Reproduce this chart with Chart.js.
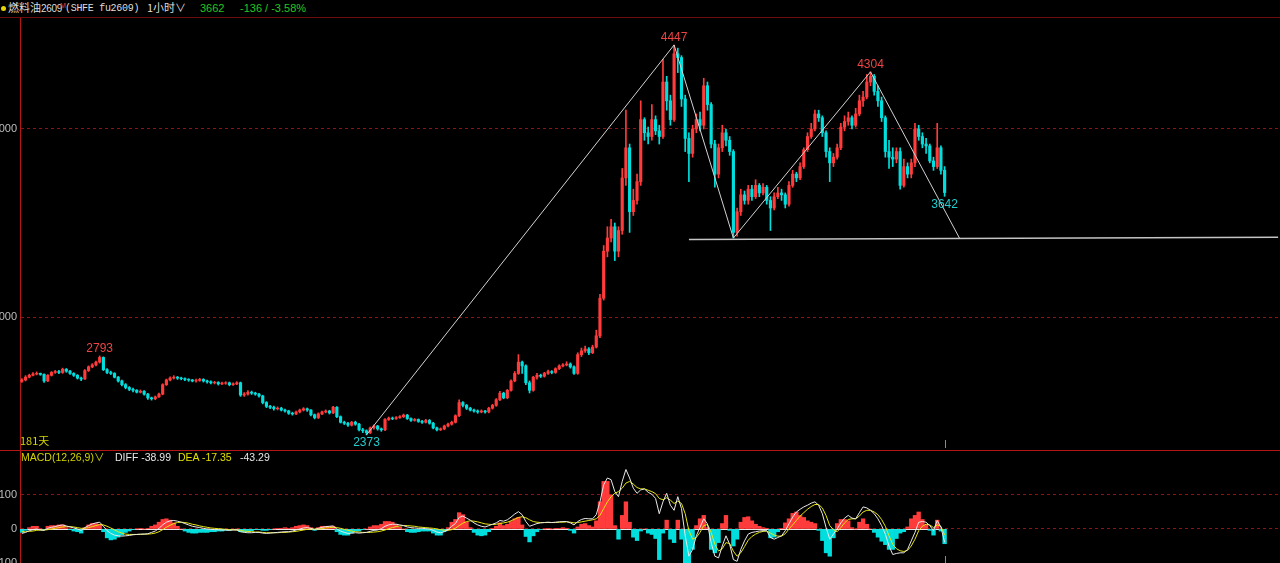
<!DOCTYPE html>
<html><head><meta charset="utf-8">
<script src="https://cdn.jsdelivr.net/npm/chart.js@4.4.1/dist/chart.umd.min.js"></script>
<style>
html,body{margin:0;padding:0;background:#000;width:1280px;height:563px;overflow:hidden;}
#wrap{position:relative;width:1280px;height:563px;background:#000;}
.t{position:absolute;white-space:nowrap;font-family:'Liberation Sans','Noto Sans CJK SC',sans-serif;font-size:11px;line-height:13px;z-index:5;}
canvas{position:absolute;left:0;}
</style></head><body><div id="wrap">
<div style="position:absolute;left:0;top:17px;width:1280px;height:1px;background:#6e0c0c"></div>
<canvas id="main" width="1280" height="432" style="top:18px"></canvas>
<div style="position:absolute;left:0;top:450px;width:1280px;height:1px;background:#b41616"></div>
<canvas id="macd" width="1280" height="112" style="top:451px"></canvas>

<div style="position:absolute;left:1px;top:6px;width:5px;height:5px;border-radius:50%;background:#e8d400;z-index:5"></div>
<span class="t" style="left:8px;top:1px;color:#dcdcdc;font-family:'Noto Sans CJK SC',sans-serif;font-size:11px;">燃料油</span>
<span class="t" style="left:41px;top:2px;color:#dcdcdc;font-size:10px;letter-spacing:-0.3px;">2609</span>
<span class="t" style="left:60px;top:-1px;color:#e04040;font-size:7px;">M</span>
<span class="t" style="left:65px;top:2px;color:#dcdcdc;font-family:'Liberation Mono',monospace;font-size:10px;letter-spacing:-0.3px;">(SHFE fu2609)</span>
<span class="t" style="left:147px;top:1px;color:#dcdcdc;font-family:'Noto Sans CJK SC',sans-serif;">1小时∨</span>
<span class="t" style="left:200px;top:2px;color:#22c822;">3662</span>
<span class="t" style="left:240px;top:2px;color:#22c822;">-136 / -3.58%</span>

<span class="t" style="left:20px;top:434px;color:#d4d400;font-family:'Noto Sans CJK SC',sans-serif;">181天</span>
<span class="t" style="left:21px;top:451px;color:#d4d400;font-size:10.5px;">MACD(12,26,9)∨</span>
<span class="t" style="left:115px;top:451px;color:#e6e6e6;font-size:10.5px;">DIFF -38.99</span>
<span class="t" style="left:178px;top:451px;color:#e0e000;font-size:10.5px;">DEA -17.35</span>
<span class="t" style="left:240px;top:451px;color:#e6e6e6;font-size:10.5px;">-43.29</span>
</div>
<script>
// ---------- data ----------
const slotCount = 340;
const opens = [
2658,2665,2680,2690,2697,2700,2695,2660,2690,2705,
2710,2705,2722,2712,2700,2690,2675,2670,2715,2735,
2745,2760,2785,2720,2705,2700,2680,2660,2640,2625,
2615,2610,2600,2605,2590,2570,2565,2575,2590,2640,
2665,2675,2680,2675,2672,2668,2665,2660,2662,2668,
2660,2655,2650,2652,2645,2648,2650,2640,2645,2650,
2585,2590,2600,2595,2590,2580,2545,2525,2520,2512,
2515,2505,2500,2488,2485,2495,2505,2512,2505,2480,
2465,2485,2495,2500,2490,2520,2470,2440,2435,2425,
2440,2430,2400,2395,2385,2410,2420,2405,2400,2455,
2462,2460,2465,2470,2478,2460,2450,2455,2445,2440,
2450,2435,2410,2400,2405,2420,2430,2440,2475,2545,
2530,2515,2505,2500,2495,2500,2495,2515,2530,2560,
2595,2570,2610,2660,2700,2760,2740,2650,2610,2680,
2690,2685,2700,2710,2705,2725,2740,2745,2750,2735,
2700,2800,2820,2830,2810,2840,2900,3100,3350,3420,
3480,3350,3460,3740,3900,3560,3620,3720,4050,3980,
3960,4050,3990,3960,4250,4150,4050,4400,4380,4160,
3950,3870,4000,4050,4020,4230,4130,3920,3760,3900,
3980,3940,3880,3450,3560,3650,3620,3680,3640,3700,
3660,3690,3620,3580,3640,3660,3650,3600,3700,3760,
3740,3800,3890,3960,4000,4080,4060,3980,3880,3820,
3850,3900,4010,4040,4060,4020,4080,4150,4170,4250,
4280,4200,4150,4060,3880,3850,3840,3880,3700,3800,
3760,3820,4000,3960,3920,3910,3830,3800,3900,3780];
const highs = [
2672,2688,2696,2704,2708,2702,2698,2694,2710,2716,
2716,2728,2726,2716,2704,2694,2680,2720,2740,2752,
2766,2793,2788,2726,2712,2704,2684,2664,2646,2630,
2622,2614,2612,2608,2594,2574,2580,2595,2645,2670,
2682,2688,2684,2680,2676,2672,2668,2670,2674,2672,
2664,2660,2658,2656,2654,2656,2654,2650,2656,2654,
2598,2608,2606,2600,2594,2584,2550,2530,2526,2522,
2520,2510,2504,2494,2500,2510,2518,2516,2508,2484,
2490,2500,2506,2504,2525,2524,2474,2446,2440,2445,
2446,2434,2408,2400,2415,2426,2424,2410,2460,2468,
2468,2470,2476,2484,2482,2464,2460,2458,2450,2456,
2455,2440,2414,2410,2425,2436,2446,2480,2560,2550,
2535,2520,2510,2506,2506,2504,2520,2536,2566,2605,
2600,2615,2666,2710,2800,2765,2745,2660,2685,2700,
2696,2706,2718,2715,2730,2746,2752,2762,2756,2740,
2810,2835,2845,2838,2850,2930,3120,3380,3480,3520,
3500,3480,3790,4100,3920,3680,3760,4150,4060,4010,
4130,4070,4020,4370,4280,4180,4447,4430,4390,4180,
3980,4020,4080,4090,4270,4250,4140,3940,3920,4020,
4000,3960,3890,3580,3680,3670,3700,3700,3730,3710,
3710,3700,3640,3660,3690,3680,3660,3720,3780,3770,
3820,3900,3980,4030,4100,4100,4070,3990,3900,3870,
3920,4030,4070,4090,4070,4110,4180,4200,4290,4304,
4290,4230,4170,4070,3940,3900,3900,3900,3840,3820,
3840,4030,4020,3980,3950,3920,3850,4030,3910,3800];
const lows = [
2652,2660,2676,2686,2692,2690,2652,2656,2686,2700,
2698,2700,2706,2694,2684,2670,2662,2668,2710,2730,
2740,2755,2715,2698,2694,2676,2654,2634,2618,2608,
2602,2596,2596,2584,2562,2558,2560,2572,2586,2636,
2660,2670,2668,2666,2662,2658,2655,2654,2658,2654,
2648,2644,2644,2638,2640,2642,2634,2636,2640,2578,
2578,2584,2588,2584,2574,2538,2518,2512,2505,2506,
2500,2494,2482,2478,2480,2490,2500,2498,2474,2458,
2460,2480,2490,2484,2486,2464,2436,2428,2418,2420,
2424,2394,2385,2373,2380,2404,2398,2392,2396,2450,
2454,2455,2460,2465,2455,2444,2446,2440,2434,2436,
2430,2405,2394,2396,2400,2415,2425,2436,2470,2522,
2508,2500,2494,2488,2490,2488,2490,2510,2525,2555,
2565,2565,2605,2655,2695,2700,2640,2596,2605,2670,
2678,2680,2695,2698,2700,2720,2734,2740,2728,2695,
2695,2790,2812,2800,2805,2835,2890,3090,3320,3400,
3300,3320,3440,3700,3450,3540,3600,3700,3940,3920,
3940,3970,3920,3950,4100,4020,4040,4300,4120,3880,
3720,3850,3980,3990,4000,4100,3900,3690,3740,3880,
3910,3860,3420,3430,3540,3600,3600,3620,3630,3640,
3650,3600,3460,3570,3630,3620,3580,3590,3690,3720,
3730,3790,3880,3950,3990,4040,3960,3850,3720,3800,
3840,3890,3990,4020,4000,4010,4070,4120,4160,4230,
4180,4120,4040,3850,3790,3800,3820,3680,3690,3740,
3740,3800,3940,3900,3870,3820,3780,3790,3760,3642];
const closes = [
2665,2680,2690,2697,2700,2695,2660,2690,2705,2710,
2705,2722,2712,2700,2690,2675,2670,2715,2735,2745,
2760,2785,2720,2705,2700,2680,2660,2640,2625,2615,
2610,2600,2605,2590,2570,2565,2575,2590,2640,2665,
2675,2680,2675,2672,2668,2665,2660,2662,2668,2660,
2655,2650,2652,2645,2648,2650,2640,2645,2650,2585,
2590,2600,2595,2590,2580,2545,2525,2520,2512,2515,
2505,2500,2488,2485,2495,2505,2512,2505,2480,2465,
2485,2495,2500,2490,2520,2470,2440,2435,2425,2440,
2430,2400,2395,2385,2410,2420,2405,2400,2455,2462,
2460,2465,2470,2478,2460,2450,2455,2445,2440,2450,
2435,2410,2400,2405,2420,2430,2440,2475,2545,2530,
2515,2505,2500,2495,2500,2495,2515,2530,2560,2595,
2570,2610,2660,2700,2760,2740,2650,2610,2680,2690,
2685,2700,2710,2705,2725,2740,2745,2750,2735,2700,
2800,2820,2830,2810,2840,2900,3100,3350,3420,3480,
3350,3460,3740,3900,3560,3620,3720,4050,3980,3960,
4050,3990,3960,4250,4150,4050,4400,4380,4160,3950,
3870,4000,4050,4020,4230,4130,3920,3760,3900,3980,
3940,3880,3450,3560,3650,3620,3680,3640,3700,3660,
3690,3620,3580,3640,3660,3650,3600,3700,3760,3740,
3800,3890,3960,4000,4080,4060,3980,3880,3820,3850,
3900,4010,4040,4060,4020,4080,4150,4170,4250,4280,
4200,4150,4060,3880,3850,3840,3880,3700,3800,3760,
3820,4000,3960,3920,3910,3830,3800,3900,3780,3662];

const diffs = [
-13,-10,-5,-2,0,-3,-4,2,5,7,
10,12,9,6,3,0,-4,4,10,15,
18,20,8,-5,-13,-18,-20,-21,-20,-19,
-17,-16,-15,-15,-14,-10,-6,2,12,20,
24,25,23,20,16,12,8,6,4,2,
0,-1,-2,-2,-3,-3,-4,-3,-3,-8,
-10,-11,-11,-10,-10,-12,-13,-12,-11,-10,
-9,-8,-8,-6,-3,0,3,4,2,-2,
2,5,7,8,9,0,-6,-10,-13,-12,
-11,-12,-11,-10,-7,-4,-3,1,8,12,
14,14,12,10,6,4,3,2,2,1,
0,-4,-9,-11,-8,-2,8,16,34,38,
32,26,18,12,8,6,10,14,18,25,
23,27,35,44,51,42,22,8,12,16,
18,19,20,19,20,21,22,22,18,12,
22,28,31,30,30,42,80,130,150,145,
110,95,140,175,150,120,105,115,118,108,
102,90,45,80,105,70,55,95,60,-20,
-80,-60,-20,5,30,15,-40,-80,-85,-50,
-20,-45,-90,-95,-60,-35,-15,-10,-8,-6,
-5,-5,-25,-30,-25,-20,-5,15,35,50,
58,65,70,76,80,70,45,5,-30,-15,
0,18,32,40,32,30,48,65,62,55,
45,30,10,-15,-50,-75,-72,-70,-70,-60,
-35,-10,20,22,20,10,-5,25,5,-38.99];
const deas = [
-8,-8,-7,-6,-4,-3,-3,-2,0,2,
4,6,7,7,6,4,2,2,4,7,
10,13,12,8,3,-3,-8,-12,-15,-16,
-16,-16,-16,-15,-15,-14,-12,-8,-2,5,
11,16,19,20,19,17,14,12,9,7,
5,3,2,1,0,-1,-2,-2,-3,-4,
-6,-7,-8,-9,-9,-10,-11,-11,-11,-11,
-10,-10,-9,-8,-7,-5,-3,-1,0,0,
0,1,3,4,5,4,2,-1,-4,-6,
-8,-9,-10,-10,-10,-9,-8,-6,-3,1,
4,7,9,10,10,9,8,6,5,4,
3,2,0,-2,-4,-4,-2,2,10,17,
22,24,23,21,18,15,14,13,14,16,
18,20,24,29,34,36,33,27,22,20,
19,19,19,19,19,20,20,21,20,18,
19,21,23,25,27,30,40,60,80,95,
105,110,120,135,140,132,122,118,118,114,
110,104,90,86,92,85,75,82,75,45,
-5,-30,-25,-10,10,13,-10,-45,-65,-58,
-40,-43,-65,-80,-70,-52,-33,-22,-15,-10,
-7,-6,-12,-18,-21,-21,-14,0,12,25,
38,48,58,66,72,72,62,40,10,-2,
-8,4,18,28,30,30,38,50,55,55,
50,42,28,8,-20,-45,-58,-64,-66,-63,
-50,-30,-5,8,14,12,4,12,8,-17.35];

const priceTicks = [3000, 4000];
const macdTicks = [-100, 0, 100];
const zigIdx = [93, 176, 192, 229, 253];
const zigVal = [2373, 4447, 3420, 4304, 3420];
const supIdx = [180, 339];
const supVal = [3412, 3424];
const markIdx = [21, 93, 176, 229, 249];
const markVal = [2793, 2373, 4447, 4304, 3642];
const markUp  = [true, false, true, true, false];

// ---------- derived ----------
const RED = '#ff3b3b', CYAN = '#00dede';
const labels = Array.from({length: slotCount}, (_, i) => String(i));
const isUp = closes.map((c, i) => c >= opens[i]);
const candleColors = isUp.map(u => u ? RED : CYAN);
const wicks = highs.map((h, i) => [lows[i], h]);
const bodies = closes.map((c, i) => [Math.min(opens[i], c), Math.max(opens[i], c)]);
const zigData = new Array(slotCount).fill(null); zigIdx.forEach((k, j) => zigData[k] = zigVal[j]);
const supData = new Array(slotCount).fill(null); supIdx.forEach((k, j) => supData[k] = supVal[j]);
const hist = diffs.map((d, i) => +(2 * (d - deas[i])).toFixed(2));
const histColors = hist.map(v => v >= 0 ? RED : CYAN);
const lastIdx = closes.length - 1;

const yAxisCommon = (min, max, tickVals) => ({
  position: 'left', min, max, bounds: 'data',
  afterBuildTicks: s => { s.ticks = tickVals.map(v => ({value: v})); },
  afterFit: s => { s.width = 20; s.paddingTop = 0; s.paddingBottom = 0; },
  ticks: {color: '#bdbdbd', font: {size: 11, family: 'Liberation Sans'}, padding: 3, callback: v => String(v)},
  grid: {color: '#8c1414', lineWidth: 1, drawTicks: false},
  border: {display: true, color: '#b41616', width: 1, dash: [3, 3]}
});

const markPlugin = {
  id: 'marks',
  afterDatasetsDraw(chart) {
    const {ctx, scales: {x, y}, chartArea} = chart;
    ctx.save();
    ctx.font = '12px "Liberation Sans", sans-serif';
    ctx.textAlign = 'center';
    markIdx.forEach((k, j) => {
      const px = x.getPixelForValue(k);
      const py = y.getPixelForValue(markVal[j]);
      ctx.fillStyle = markUp[j] ? '#f04444' : '#22cccc';
      ctx.textBaseline = markUp[j] ? 'bottom' : 'top';
      ctx.fillText(String(markVal[j]), px, markUp[j] ? py - 1 : py + 2);
    });
    const lx = Math.round(x.getPixelForValue(lastIdx)) + 0.5;
    ctx.strokeStyle = '#8a8a8a'; ctx.lineWidth = 1;
    ctx.beginPath(); ctx.moveTo(lx, chartArea.bottom - 10); ctx.lineTo(lx, chartArea.bottom - 2); ctx.stroke();
    ctx.restore();
  }
};

new Chart(document.getElementById('main'), {
  type: 'bar',
  data: {
    labels,
    datasets: [
      {type: 'line', data: zigData, borderColor: '#d2d2d2', borderWidth: 1, pointRadius: 0, spanGaps: true, order: 0},
      {type: 'line', data: supData, borderColor: '#c4c4c4', borderWidth: 1.5, pointRadius: 0, spanGaps: true, order: 0},
      {data: bodies, backgroundColor: candleColors, barThickness: 2.5, grouped: false, borderWidth: 0, order: 1},
      {data: wicks, backgroundColor: candleColors, barThickness: 1, grouped: false, borderWidth: 0, order: 2}
    ]
  },
  options: {
    responsive: false, animation: false, events: [],
    layout: {padding: 0},
    plugins: {legend: {display: false}, tooltip: {enabled: false}},
    scales: {
      x: {type: 'category', display: false, offset: true},
      y: yAxisCommon(2292.6, 4590.4, priceTicks)
    }
  },
  plugins: [markPlugin]
});

const zeroPlugin = {
  id: 'zero',
  beforeDatasetsDraw(chart) {
    const {ctx, scales: {x, y}} = chart;
    const half = (x.getPixelForValue(1) - x.getPixelForValue(0)) / 2;
    const y0 = Math.round(y.getPixelForValue(0)) + 0.5;
    ctx.save();
    ctx.strokeStyle = '#e8e8e8'; ctx.lineWidth = 1;
    ctx.beginPath(); ctx.moveTo(x.getPixelForValue(0) - half, y0); ctx.lineTo(x.getPixelForValue(lastIdx) + half, y0); ctx.stroke();
    ctx.restore();
  },
  afterDatasetsDraw(chart) {
    const {ctx, scales: {x}, chartArea} = chart;
    const lx = Math.round(x.getPixelForValue(lastIdx)) + 0.5;
    ctx.save();
    ctx.strokeStyle = '#8a8a8a'; ctx.lineWidth = 1;
    ctx.beginPath(); ctx.moveTo(lx, chartArea.bottom - 7); ctx.lineTo(lx, chartArea.bottom); ctx.stroke();
    ctx.restore();
  }
};

new Chart(document.getElementById('macd'), {
  type: 'bar',
  data: {
    labels,
    datasets: [
      {type: 'line', data: diffs, borderColor: '#e8e8e8', borderWidth: 1, pointRadius: 0, order: 0},
      {type: 'line', data: deas, borderColor: '#e6e610', borderWidth: 1, pointRadius: 0, order: 0},
      {data: hist, backgroundColor: histColors, barPercentage: 1, categoryPercentage: 1, borderWidth: 0, order: 1}
    ]
  },
  options: {
    responsive: false, animation: false, events: [],
    layout: {padding: 0},
    plugins: {legend: {display: false}, tooltip: {enabled: false}},
    scales: {
      x: {type: 'category', display: false, offset: true},
      y: yAxisCommon(-100, 229.4, macdTicks)
    }
  },
  plugins: [zeroPlugin]
});
</script>
</body></html>
